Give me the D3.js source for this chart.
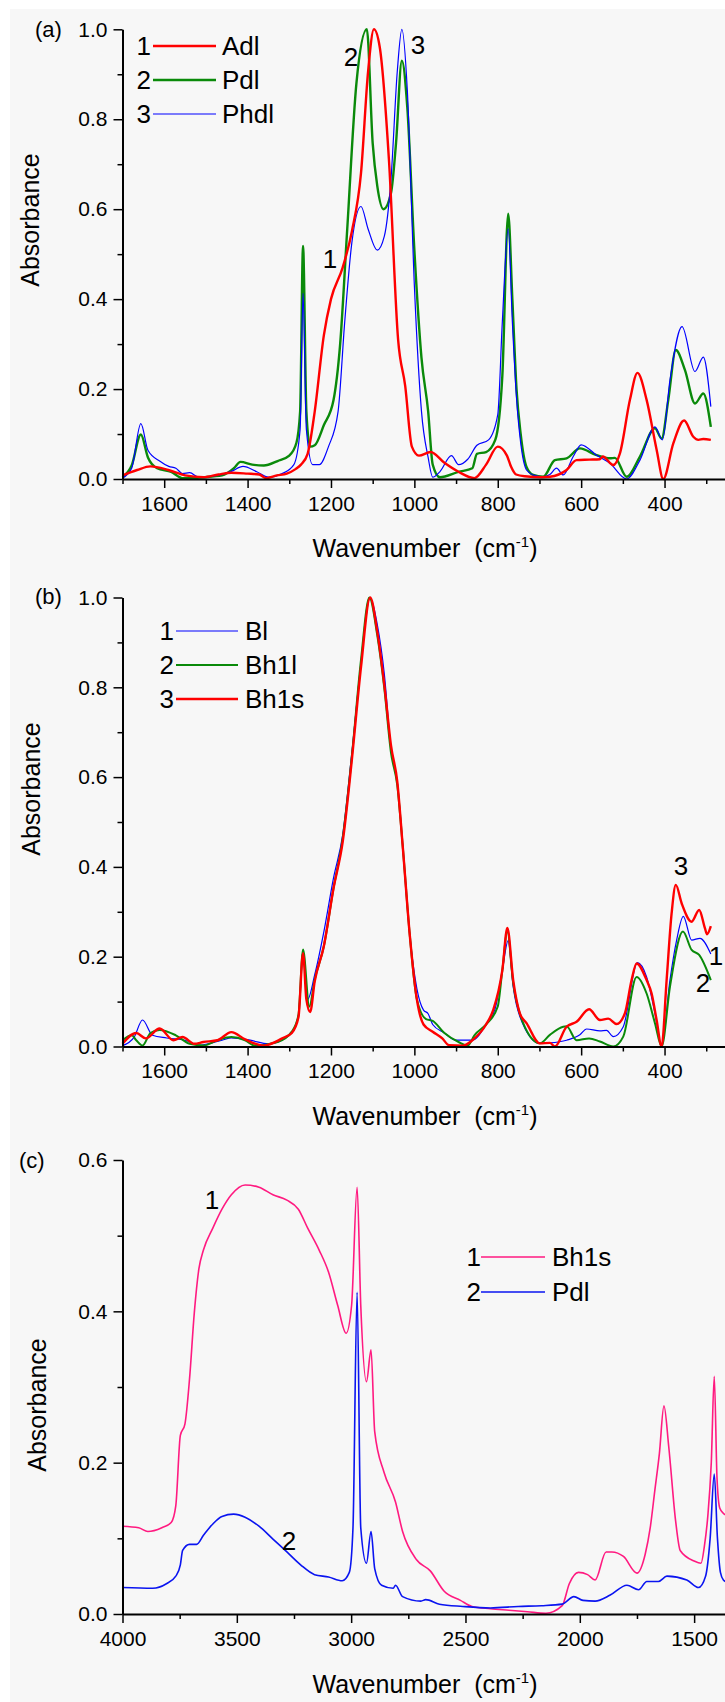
<!DOCTYPE html>
<html>
<head>
<meta charset="utf-8">
<script src="https://cdnjs.cloudflare.com/ajax/libs/d3/7.8.5/d3.min.js"></script>
<style>
  body { margin: 0; background: #fff; }
  svg { display: block; font-family: "Liberation Sans", Arial, sans-serif; }
  .tick text { fill: #000; }
</style>
</head>
<body>
<div id="chart"></div>
<script>
// ---- data: [wavenumber (cm-1), absorbance] ----

// panel (a)
var adlA = [[1700,0.008],[1665,0.02],[1633,0.028],[1590,0.02],[1550,0.008],[1506,0.004],[1470,0.01],[1439,0.014],[1400,0.012],[1372,0.01],[1356,0.002],[1330,0.008],[1306,0.012],[1285,0.022],[1272,0.032],[1256,0.056],[1239,0.15],[1217,0.32],[1200,0.40],[1172,0.47],[1150,0.55],[1128,0.68],[1111,0.906],[1097,1.0],[1083,0.96],[1061,0.71],[1039,0.31],[1022,0.207],[1006,0.072],[989,0.052],[961,0.06],[928,0.036],[894,0.016],[856,0.002],[828,0.032],[800,0.072],[778,0.052],[768,0.027],[756,0.01],[735,0.006],[694,0.004],[675,0.005],[635,0.02],[611,0.042],[580,0.043],[555,0.044],[548,0.05],[523,0.031],[507,0.057],[483,0.176],[465,0.236],[443,0.176],[419,0.065],[403,0.0],[379,0.079],[353,0.13],[331,0.094],[319,0.087],[307,0.089],[289,0.087]];
var pdlA = [[1700,0.004],[1678,0.03],[1656,0.099],[1639,0.048],[1617,0.024],[1583,0.016],[1556,0.002],[1506,0.004],[1461,0.008],[1433,0.024],[1417,0.038],[1389,0.032],[1361,0.03],[1328,0.04],[1300,0.052],[1283,0.08],[1274,0.15],[1267,0.518],[1259,0.15],[1250,0.072],[1239,0.075],[1217,0.12],[1194,0.175],[1178,0.30],[1161,0.556],[1139,0.88],[1114,1.0],[1100,0.747],[1089,0.652],[1074,0.60],[1056,0.636],[1044,0.747],[1030,0.93],[1017,0.827],[1000,0.509],[983,0.27],[967,0.151],[956,0.032],[939,0.004],[894,0.016],[861,0.024],[850,0.056],[828,0.06],[806,0.087],[789,0.23],[775,0.59],[765,0.40],[755,0.2],[745,0.1],[731,0.027],[715,0.009],[691,0.005],[663,0.042],[635,0.046],[603,0.068],[563,0.053],[531,0.046],[519,0.047],[491,0.005],[459,0.05],[423,0.113],[407,0.09],[391,0.176],[373,0.287],[351,0.242],[327,0.168],[307,0.19],[289,0.116]];
var phdlA = [[1700,0.002],[1678,0.024],[1656,0.123],[1639,0.064],[1611,0.04],[1589,0.028],[1572,0.024],[1556,0.012],[1539,0.014],[1517,0.004],[1472,0.008],[1439,0.017],[1411,0.028],[1378,0.016],[1350,0.004],[1317,0.012],[1289,0.032],[1274,0.11],[1267,0.413],[1259,0.11],[1244,0.032],[1228,0.032],[1206,0.072],[1183,0.15],[1167,0.35],[1150,0.525],[1128,0.606],[1111,0.556],[1089,0.509],[1072,0.54],[1056,0.668],[1041,0.906],[1030,1.0],[1017,0.866],[1000,0.43],[983,0.151],[967,0.048],[956,0.004],[939,0.016],[911,0.052],[894,0.032],[872,0.044],[850,0.075],[822,0.087],[800,0.143],[789,0.35],[775,0.556],[765,0.35],[755,0.18],[745,0.08],[731,0.02],[715,0.009],[691,0.005],[675,0.01],[659,0.024],[643,0.009],[619,0.05],[600,0.076],[563,0.053],[531,0.035],[491,0.0],[459,0.042],[423,0.116],[405,0.087],[387,0.22],[358,0.339],[327,0.239],[307,0.271],[289,0.161]];

// panel (b)
var blB = [[1700,0.002],[1672,0.021],[1652,0.059],[1628,0.025],[1594,0.019],[1550,0.014],[1517,0.003],[1461,0.014],[1439,0.019],[1394,0.014],[1350,0.006],[1294,0.03],[1278,0.07],[1267,0.2],[1256,0.105],[1239,0.16],[1217,0.256],[1194,0.375],[1172,0.471],[1150,0.654],[1128,0.853],[1106,1.0],[1089,0.94],[1072,0.829],[1056,0.662],[1041,0.59],[1028,0.447],[1011,0.248],[994,0.129],[978,0.081],[967,0.073],[956,0.049],[928,0.03],[900,0.014],[878,0.014],[861,0.014],[828,0.049],[806,0.085],[789,0.17],[775,0.236],[763,0.133],[747,0.067],[699,0.007],[675,0.008],[635,0.014],[603,0.026],[587,0.039],[555,0.035],[539,0.036],[523,0.022],[499,0.044],[465,0.187],[443,0.155],[423,0.074],[407,0.0],[387,0.148],[371,0.237],[355,0.29],[335,0.237],[315,0.241],[289,0.206]];
var bh1lB = [[1700,0.014],[1678,0.025],[1667,0.014],[1652,0.002],[1633,0.03],[1611,0.037],[1572,0.025],[1539,0.006],[1506,0.002],[1472,0.014],[1439,0.021],[1406,0.014],[1383,0.002],[1328,0.01],[1294,0.033],[1278,0.07],[1267,0.216],[1252,0.089],[1239,0.149],[1217,0.224],[1194,0.352],[1172,0.463],[1150,0.646],[1128,0.861],[1108,1.0],[1089,0.916],[1072,0.797],[1056,0.654],[1041,0.582],[1028,0.447],[1011,0.248],[994,0.105],[972,0.061],[956,0.057],[928,0.03],[894,0.01],[872,0.002],[856,0.025],[828,0.049],[800,0.089],[789,0.17],[777,0.256],[763,0.141],[739,0.052],[699,0.007],[675,0.026],[643,0.044],[635,0.045],[611,0.014],[581,0.018],[555,0.011],[523,0.0],[499,0.022],[467,0.155],[443,0.118],[423,0.052],[407,0.0],[387,0.133],[356,0.256],[335,0.215],[317,0.204],[289,0.148]];
var bh1sB = [[1700,0.006],[1667,0.03],[1644,0.018],[1611,0.04],[1578,0.014],[1556,0.021],[1528,0.006],[1506,0.01],[1472,0.014],[1439,0.032],[1406,0.016],[1361,0.002],[1317,0.018],[1294,0.03],[1278,0.065],[1267,0.208],[1259,0.105],[1250,0.077],[1239,0.145],[1217,0.224],[1194,0.352],[1172,0.455],[1150,0.638],[1128,0.845],[1106,1.0],[1089,0.924],[1072,0.805],[1056,0.67],[1041,0.59],[1028,0.447],[1011,0.248],[994,0.105],[978,0.049],[956,0.033],[933,0.018],[917,0.003],[883,0.002],[861,0.014],[828,0.049],[811,0.081],[789,0.17],[777,0.264],[763,0.148],[747,0.074],[731,0.052],[699,0.007],[675,0.008],[663,0.0],[635,0.044],[611,0.055],[581,0.083],[555,0.059],[535,0.062],[515,0.05],[495,0.074],[479,0.148],[467,0.185],[443,0.148],[431,0.118],[419,0.059],[407,0.0],[395,0.148],[383,0.297],[373,0.36],[359,0.319],[335,0.278],[317,0.304],[303,0.263],[298,0.25],[289,0.268]];

// panel (c)
var bh1sC = [[4000,0.116],[3929,0.114],[3889,0.109],[3828,0.114],[3787,0.121],[3767,0.143],[3747,0.236],[3727,0.251],[3707,0.31],[3686,0.398],[3666,0.456],[3646,0.481],[3605,0.51],[3565,0.535],[3524,0.554],[3464,0.567],[3403,0.564],[3342,0.554],[3281,0.547],[3231,0.535],[3190,0.51],[3140,0.481],[3099,0.452],[3059,0.408],[3022,0.371],[2998,0.408],[2974,0.564],[2958,0.408],[2933,0.307],[2913,0.349],[2897,0.241],[2856,0.187],[2806,0.148],[2775,0.109],[2715,0.072],[2654,0.057],[2593,0.03],[2522,0.018],[2472,0.01],[2391,0.007],[2310,0.005],[2229,0.003],[2148,0.001],[2077,0.011],[2046,0.04],[2006,0.055],[1966,0.052],[1933,0.045],[1885,0.082],[1860,0.082],[1809,0.076],[1750,0.054],[1714,0.079],[1692,0.114],[1672,0.163],[1652,0.212],[1632,0.275],[1611,0.221],[1581,0.123],[1561,0.084],[1500,0.07],[1470,0.067],[1455,0.09],[1440,0.13],[1425,0.2],[1412,0.314],[1400,0.18],[1388,0.14],[1372,0.133],[1355,0.13]];
var pdlC = [[4000,0.035],[3868,0.034],[3808,0.04],[3767,0.05],[3747,0.065],[3737,0.084],[3707,0.092],[3676,0.092],[3646,0.104],[3605,0.119],[3565,0.129],[3514,0.132],[3464,0.128],[3403,0.116],[3342,0.099],[3281,0.082],[3221,0.065],[3160,0.052],[3099,0.049],[3039,0.044],[3008,0.055],[2992,0.114],[2974,0.425],[2958,0.114],[2933,0.067],[2913,0.109],[2897,0.06],[2867,0.038],[2816,0.034],[2806,0.038],[2775,0.023],[2695,0.017],[2674,0.019],[2614,0.013],[2512,0.01],[2391,0.008],[2270,0.01],[2168,0.011],[2077,0.013],[2026,0.023],[1986,0.018],[1933,0.017],[1867,0.025],[1794,0.038],[1743,0.032],[1707,0.043],[1656,0.043],[1619,0.05],[1532,0.045],[1481,0.035],[1450,0.05],[1430,0.1],[1412,0.185],[1398,0.1],[1385,0.055],[1372,0.045],[1355,0.042]];

// tick values
var xTicksAB = [1600, 1400, 1200, 1000, 800, 600, 400];
var xMinorAB = [1700, 1500, 1300, 1100, 900, 700, 500, 300];
var yTicksAB = [0, 0.2, 0.4, 0.6, 0.8, 1.0];
var yMinorAB = [0.1, 0.3, 0.5, 0.7, 0.9];
var xTicksC = [4000, 3500, 3000, 2500, 2000, 1500];
var xMinorC = [3750, 3250, 2750, 2250, 1750];
var yTicksC = [0, 0.2, 0.4, 0.6];
var yMinorC = [0.1, 0.3, 0.5];

var svgWidth = 725;
var svgHeight = 1702;

var svg = d3.select("#chart")
  .append("svg")
  .attr("width", svgWidth)
  .attr("height", svgHeight);

// light grey canvas of the original figure
svg.append("rect")
  .attr("x", 10)
  .attr("y", 9)
  .attr("width", svgWidth - 10)
  .attr("height", svgHeight - 9)
  .attr("fill", "#f7f7f7");

var panels = [
  {
    tag: "(a)", tagX: 35, tagY: 29,
    xDomain: [1700, 255], yDomain: [0, 1], y0: 479, y1: 29.3,
    xTicks: xTicksAB, xMinor: xMinorAB, yTicks: yTicksAB, yMinor: yMinorAB,
    titleY: 557, absY: 220, absX: 39,
    series: [
      {name: "Pdl", num: "2", data: pdlA, color: "#0a8a0a", width: 2.4},
      {name: "Phdl", num: "3", data: phdlA, color: "#0000ff", width: 1.2},
      {name: "Adl", num: "1", data: adlA, color: "#ff0000", width: 2.4}
    ],
    legend: {order: [2, 0, 1], numX: 151, lineX: [153, 216], textX: 222, rows: [46, 80, 114]},
    labels: [{t: "2", x: 351, y: 57}, {t: "3", x: 418, y: 45}, {t: "1", x: 330, y: 259}]
  },
  {
    tag: "(b)", tagX: 35, tagY: 596,
    xDomain: [1700, 255], yDomain: [0, 1], y0: 1046.5, y1: 597.5,
    xTicks: xTicksAB, xMinor: xMinorAB, yTicks: yTicksAB, yMinor: yMinorAB,
    titleY: 1125, absY: 789, absX: 40,
    series: [
      {name: "Bl", num: "1", data: blB, color: "#0000ff", width: 1.2},
      {name: "Bh1l", num: "2", data: bh1lB, color: "#0a8a0a", width: 2},
      {name: "Bh1s", num: "3", data: bh1sB, color: "#ff0000", width: 2.4}
    ],
    legend: {order: [0, 1, 2], numX: 174, lineX: [176, 238], textX: 245, rows: [631, 665, 699]},
    labels: [{t: "3", x: 681, y: 866}, {t: "1", x: 716, y: 956}, {t: "2", x: 703, y: 983}]
  },
  {
    tag: "(c)", tagX: 19, tagY: 1160,
    xDomain: [4000, 1365], yDomain: [0, 0.6], y0: 1614, y1: 1160,
    xTicks: xTicksC, xMinor: xMinorC, yTicks: yTicksC, yMinor: yMinorC,
    titleY: 1693, absY: 1405, absX: 46,
    series: [
      {name: "Bh1s", num: "1", data: bh1sC, color: "#ff1a80", width: 1.6},
      {name: "Pdl", num: "2", data: pdlC, color: "#0a14f0", width: 1.6}
    ],
    legend: {order: [0, 1], numX: 481, lineX: [481, 545], textX: 552, rows: [1257, 1292]},
    labels: [{t: "1", x: 212, y: 1200}, {t: "2", x: 289, y: 1541}]
  }
];

var axisLeftX = 122.5;

panels.forEach(drawPanel);

function drawPanel(p) {
  var g = svg.append("g");

  var x = d3.scaleLinear().domain(p.xDomain).range([axisLeftX, svgWidth]);
  var y = d3.scaleLinear().domain(p.yDomain).range([p.y0, p.y1]);

  // spectra
  var line = d3.line()
    .x(d => x(d[0]))
    .y(d => y(d[1]))
    .curve(d3.curveMonotoneX);

  g.selectAll("path.spec")
    .data(p.series)
    .enter()
    .append("path")
    .attr("class", "spec")
    .attr("d", d => line(d.data))
    .attr("fill", "none")
    .attr("stroke", d => d.color)
    .attr("stroke-width", d => d.width)
    .attr("stroke-linejoin", "round");

  // minor ticks
  g.append("g")
    .attr("transform", `translate(0, ${p.y0})`)
    .call(d3.axisBottom(x).tickValues(p.xMinor).tickSize(5).tickSizeOuter(0).tickFormat(""))
    .call(a => a.select(".domain").remove())
    .selectAll("line").attr("stroke", "#000").attr("stroke-width", 1.5);

  g.append("g")
    .attr("transform", `translate(${axisLeftX}, 0)`)
    .call(d3.axisLeft(y).tickValues(p.yMinor).tickSize(5).tickSizeOuter(0).tickFormat(""))
    .call(a => a.select(".domain").remove())
    .selectAll("line").attr("stroke", "#000").attr("stroke-width", 1.5);

  // major axes
  var xAxis = g.append("g")
    .attr("transform", `translate(0, ${p.y0})`)
    .call(d3.axisBottom(x).tickValues(p.xTicks).tickSize(9).tickPadding(8).tickSizeOuter(0).tickFormat(d3.format("d")));

  var yAxis = g.append("g")
    .attr("transform", `translate(${axisLeftX}, 0)`)
    .call(d3.axisLeft(y).tickValues(p.yTicks).tickSize(9).tickPadding(6).tickSizeOuter(0).tickFormat(d3.format(".1f")));

  [xAxis, yAxis].forEach(a => {
    a.select(".domain").attr("stroke", "#000").attr("stroke-width", 2);
    a.selectAll(".tick line").attr("stroke", "#000").attr("stroke-width", 1.5);
    a.selectAll(".tick text")
      .attr("font-size", "21px")
      .attr("font-family", "'Liberation Sans', Arial, sans-serif");
  });

  // panel tag
  g.append("text")
    .attr("x", p.tagX)
    .attr("y", p.tagY + 7.5)
    .attr("font-size", "22px")
    .text(p.tag);

  // axis titles
  var xt = g.append("text")
    .attr("x", 425)
    .attr("y", p.titleY)
    .attr("text-anchor", "middle")
    .attr("font-size", "25px")
    .style("white-space", "pre");
  xt.append("tspan").text("Wavenumber  (cm");
  xt.append("tspan").attr("dy", -10).attr("font-size", "15px").text("-1");
  xt.append("tspan").attr("dy", 10).text(")");

  g.append("text")
    .attr("transform", `translate(${p.absX}, ${p.absY}) rotate(-90)`)
    .attr("text-anchor", "middle")
    .attr("font-size", "25px")
    .text("Absorbance");

  // legend
  var lg = p.legend;
  lg.order.forEach((si, i) => {
    var s = p.series[si];
    var ry = lg.rows[i];
    g.append("text")
      .attr("x", lg.numX)
      .attr("y", ry + 9)
      .attr("text-anchor", "end")
      .attr("font-size", "26px")
      .text(s.num);
    g.append("line")
      .attr("x1", lg.lineX[0]).attr("x2", lg.lineX[1])
      .attr("y1", ry).attr("y2", ry)
      .attr("stroke", s.color)
      .attr("stroke-width", s.width);
    g.append("text")
      .attr("x", lg.textX)
      .attr("y", ry + 9)
      .attr("font-size", "26px")
      .text(s.name);
  });

  // curve numbers
  g.selectAll("text.lab")
    .data(p.labels)
    .enter()
    .append("text")
    .attr("class", "lab")
    .attr("x", d => d.x)
    .attr("y", d => d.y + 9)
    .attr("text-anchor", "middle")
    .attr("font-size", "26px")
    .text(d => d.t);
}
</script>
</body>
</html>
